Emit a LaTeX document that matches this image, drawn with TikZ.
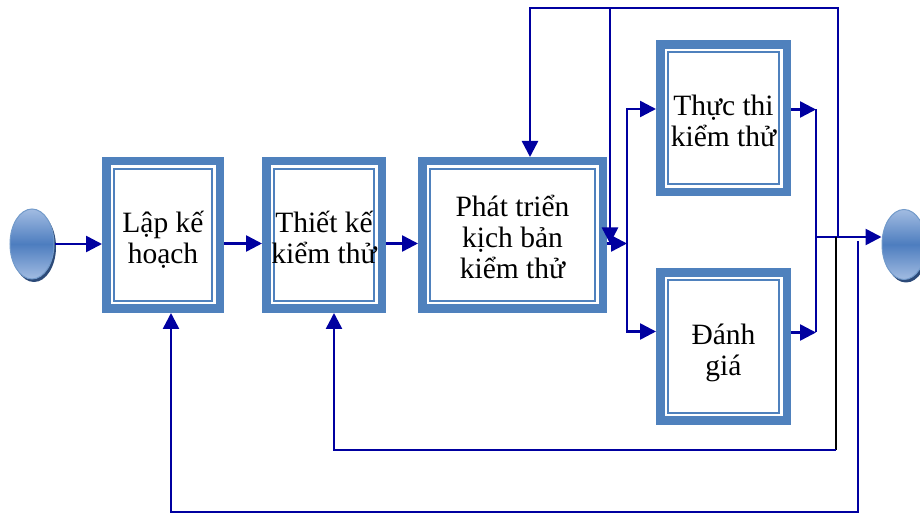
\documentclass[tikz,border=0pt]{standalone}
\usepackage{fontspec}
\setmainfont{Liberation Serif}
\usetikzlibrary{positioning,arrows.meta,shapes.geometric,shadows}

\definecolor{boxblue}{HTML}{4F81BD}
\definecolor{flowblue}{HTML}{0000A0}
\definecolor{termlight}{HTML}{A2BCE2}
\definecolor{termmid}{HTML}{4D7DBF}
\definecolor{termshade}{HTML}{2C4A78}

% fixed top and bottom strut so that every box sets its lines alike
\newcommand{\stagelines}[1]{\rule{0pt}{34pt}#1\rule[-8pt]{0pt}{8pt}}

\tikzset{
  stage/.style={draw=boxblue, line width=8.5pt, outer sep=4.25pt, fill=white,
    minimum height=147.5pt, inner sep=0pt, align=center,
    font=\fontsize{29.5}{31}\selectfont,
    path picture={\draw[boxblue, line width=2pt]
      ([shift={(7.75pt,-7.75pt)}]path picture bounding box.north west) rectangle
      ([shift={(-7.75pt,7.75pt)}]path picture bounding box.south east);}},
  terminal/.style={ellipse, draw=boxblue!80!white, line width=1pt,
    minimum width=44pt, minimum height=70pt,
    top color=termlight, bottom color=termlight, middle color=termmid,
    drop shadow={shadow xshift=2pt, shadow yshift=-3pt, fill=termshade, opacity=1}},
  flow/.style={draw=flowblue, line width=2.5pt, -{Triangle[length=16pt,width=16pt]}},
  wire/.style={draw=flowblue, line width=2.5pt},
}

\begin{document}
\begin{tikzpicture}[x=1pt, y=1pt]
  \useasboundingbox (0,0) rectangle (920,514);

  % start and end
  \node [terminal] (start) at (32,270) {};
  \node [terminal] (stop) at (904,269.5) {};

  % stages
  \node [stage, minimum width=113.5pt] (plan) at (163,279) {\stagelines{Lập kế\\hoạch}};
  \node [stage, minimum width=115.5pt, right=38pt of plan] (design) {\stagelines{Thiết kế\\kiểm thử}};
  \node [stage, minimum width=180.5pt, right=32pt of design] (script) {\stagelines{Phát triển\\kịch bản\\kiểm thử}};
  \node [stage, minimum width=126.5pt] (run) at (723.5,395.5) {\stagelines{Thực thi\\kiểm thử}};
  \node [stage, minimum width=126.5pt, below=72pt of run] (eval) {\stagelines{Đánh\\giá}};

  % junction points
  \coordinate (fork) at (627,270.5);
  \coordinate (merge) at (816,277);
  \coordinate (tapTop) at (838,277);
  \coordinate (loopCorner) at (530,506);
  \coordinate (tapMid) at (610,506);
  \coordinate (tapBack) at (836,277);
  \coordinate (backCorner) at (836,64);
  \coordinate (tapLow) at (858,273);
  \coordinate (lowCorner) at (858,2);

  % main row
  \draw [flow] (start) -- (start -| plan.west);
  \draw [flow] ([yshift=-8.5pt]plan.east) -- ([yshift=-8.5pt]design.west);
  \draw [flow] ([yshift=-8.5pt]design.east) -- ([yshift=-8.5pt]script.west);
  \draw [flow] ([yshift=-8.5pt]script.east) -- (fork);
  \draw [flow] (fork) |- ([yshift=9.5pt]run.west);
  \draw [flow] (fork) |- ([yshift=15pt]eval.west);
  \draw [flow] ([yshift=9pt]run.east) -- ([yshift=9pt]run.east -| merge);
  \draw [flow] ([yshift=14pt]eval.east) -- ([yshift=14pt]eval.east -| merge);
  \draw [wire] ([yshift=9pt]run.east -| merge) -- ([yshift=14pt]eval.east -| merge);
  \draw [flow] (merge) -- (merge -| stop.west);

  % feedback
  \draw [flow] (tapTop) |- (loopCorner) -- ([xshift=17.5pt]script.north);
  \draw [flow] (tapMid) -- (tapMid |- fork);
  \draw [black, line width=1.8pt] (tapBack) -- (backCorner);
  \draw [flow] (backCorner) -| ([xshift=10pt]design.south);
  \draw [flow] (tapLow) -- (lowCorner) -| ([xshift=8pt]plan.south);
\end{tikzpicture}
\end{document}
